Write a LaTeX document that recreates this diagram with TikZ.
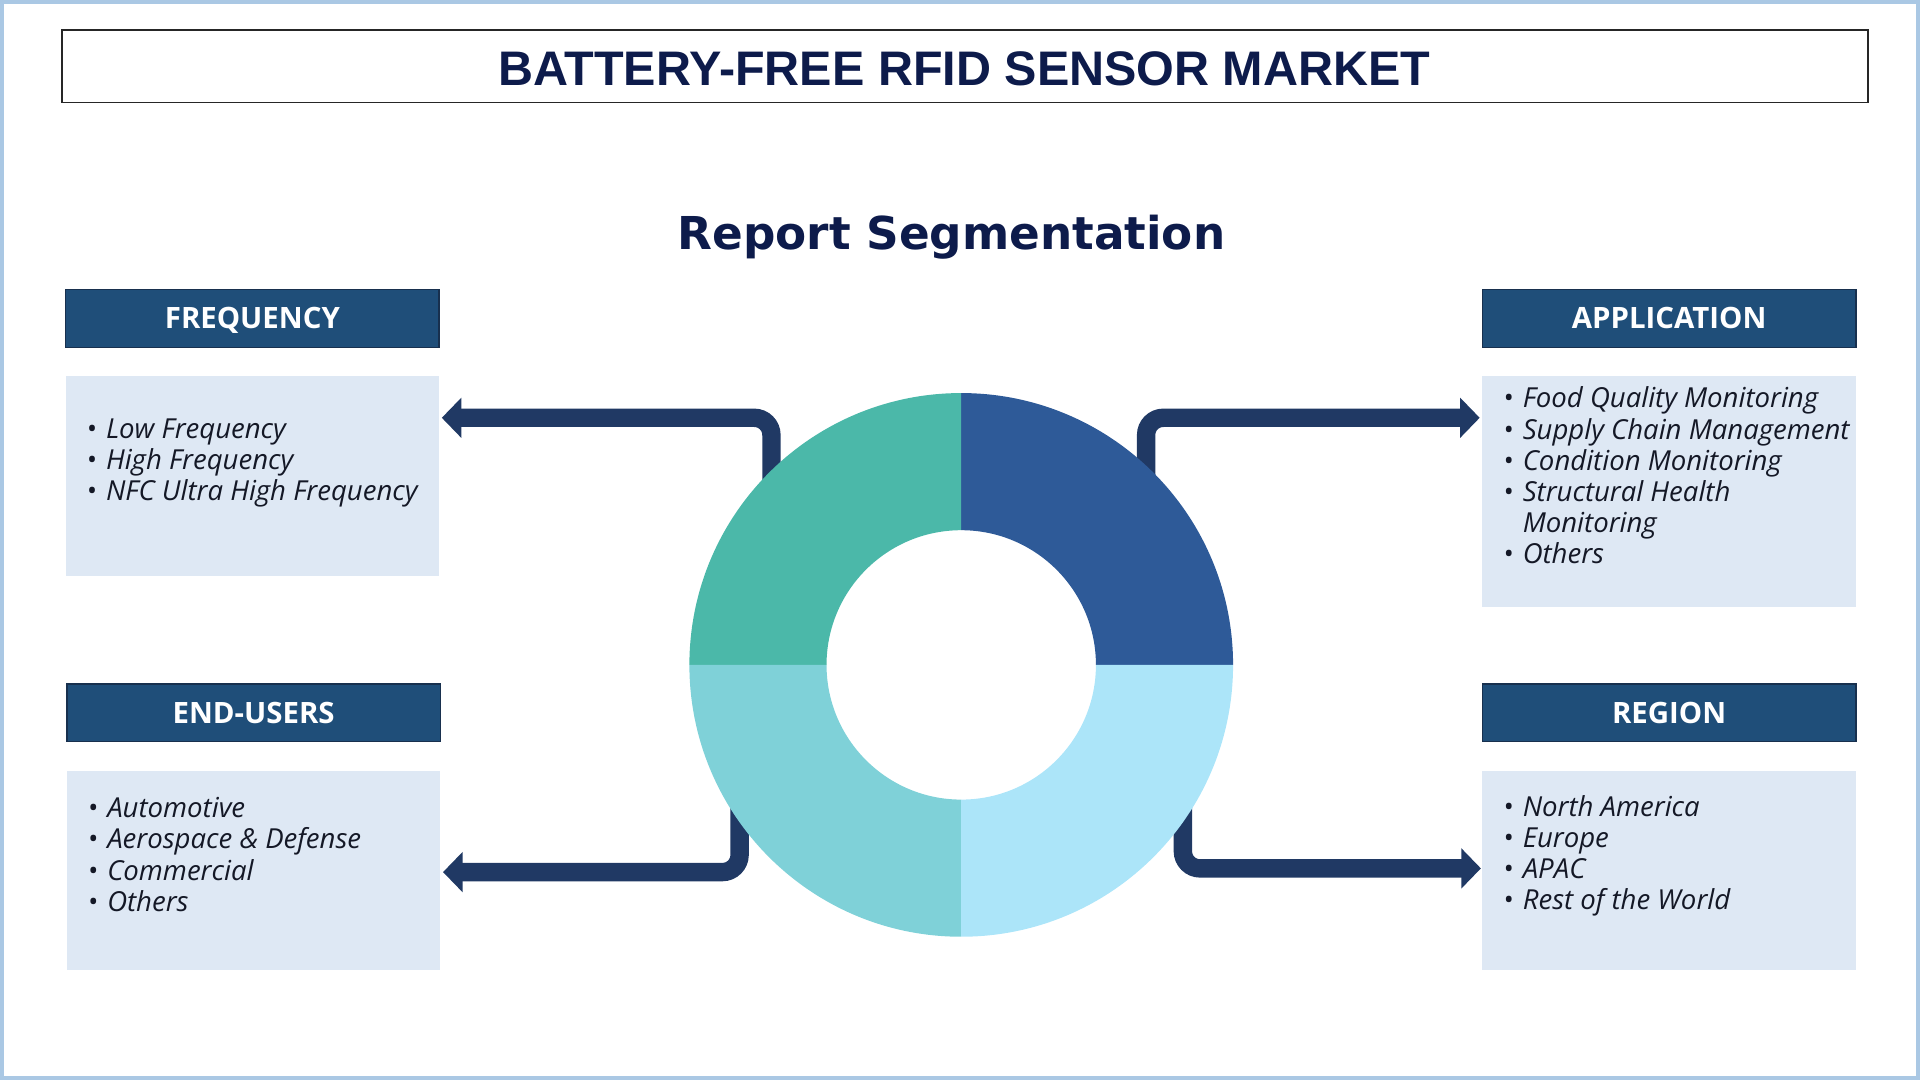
\documentclass[tikz,border=0pt]{standalone}
\usepackage{fontspec}
\setmainfont{Open Sans}
\newfontfamily\titlefont{Liberation Sans}
\newfontfamily\segfont{DejaVu Sans}
\usetikzlibrary{calc,positioning,arrows.meta}
\definecolor{navy}{RGB}{13,27,75}
\definecolor{hdrblue}{RGB}{31,78,121}
\definecolor{hdredge}{RGB}{24,48,78}
\definecolor{panelblue}{RGB}{222,232,244}
\definecolor{linkblue}{RGB}{32,57,100}
\definecolor{itemink}{RGB}{20,24,38}
\definecolor{frameblue}{RGB}{170,200,228}
\definecolor{segA}{RGB}{46,90,152}
\definecolor{segB}{RGB}{75,184,169}
\definecolor{segC}{RGB}{127,209,216}
\definecolor{segD}{RGB}{172,229,249}
\def\sector(#1)(#2:#3)#4{\fill[#4] ($(#1)+(#2:222)$) arc (#2:#3:222) -- ($(#1)+(#3:110)$) arc (#3:#2:110) -- cycle;}
\newcommand\itm[1]{\makebox[16pt][l]{\textbullet}#1}

\begin{document}
\begin{tikzpicture}[x=1pt, y=-1pt,
		hdr/.style={draw=hdredge, line width=1.2pt, fill=hdrblue, text=white, font=\fontsize{24}{28}\selectfont\bfseries, text height=17pt, text depth=0pt, minimum width=305pt, minimum height=47pt, inner sep=0pt, anchor=north west},
		panel/.style={fill=panelblue, minimum width=305pt, inner sep=0pt},
		items/.style={text=itemink, font=\fontsize{22.5}{25.5}\selectfont\itshape, align=left, inner sep=0pt, anchor=west},
		link/.style={draw=linkblue, line width=15pt, rounded corners=14pt, -{Triangle[length=16pt, width=32pt]}}]
			%%%%% START %%%%%
			
			\useasboundingbox (0,0) rectangle (1568,882);
			\draw[frameblue, line width=3pt] (1.5,1.5) rectangle (1566.5,880.5);
			
			\node[draw=black!85, line width=1.5pt, minimum width=1475pt, minimum height=59pt, inner sep=0pt, anchor=north west] (titlebox) at (50,24) {};
			\node[text=navy, font=\titlefont\fontsize{39.6}{44}\selectfont\bfseries, anchor=base] (title) at (787.5,70) {BATTERY-FREE RFID SENSOR MARKET};
			
			\node[text=navy, font=\segfont\fontsize{37}{44}\selectfont\bfseries, anchor=base] (segtitle) at (777,204) {Report Segmentation};
			
			\node[hdr] (freqhdr) at (53,236) {FREQUENCY};
			\node[hdr] (apphdr) at (1210,236) {APPLICATION};
			\node[hdr] (endhdr) at (54,558) {END-USERS};
			\node[hdr] (reghdr) at (1210,558) {REGION};
			
			\node[panel, minimum height=163pt, below=23pt of freqhdr] (freqbox) {};
			\node[panel, minimum height=188pt, below=23pt of apphdr] (appbox) {};
			\node[panel, minimum height=163pt, below=23pt of endhdr] (endbox) {};
			\node[panel, minimum height=163pt, below=23pt of reghdr] (regbox) {};
			
			\node[items] (freqlist) at ($(freqbox.west)+(17,-11)$) {\itm{Low Frequency}\\ \itm{High Frequency}\\ \itm{NFC Ultra High Frequency}};
			\node[items] (applist) at ($(appbox.west)+(17,-13)$) {\itm{Food Quality Monitoring}\\ \itm{Supply Chain Management}\\ \itm{Condition Monitoring}\\ \itm{Structural Health}\\ \makebox[16pt]{}Monitoring\\ \itm{Others}};
			\node[items] (endlist) at ($(endbox.west)+(17,-13)$) {\itm{Automotive}\\ \itm{Aerospace \& Defense}\\ \itm{Commercial}\\ \itm{Others}};
			\node[items] (reglist) at ($(regbox.west)+(17,-12)$) {\itm{North America}\\ \itm{Europe}\\ \itm{APAC}\\ \itm{Rest of the World}};
			
			\coordinate (ring) at (785,543);
			\coordinate (freqtip) at ($(freqbox.north east)+(2,34)$);
			\coordinate (apptip) at ($(appbox.north west)+(-2,34)$);
			\coordinate (endtip) at ($(endbox.north east)+(2,83)$);
			\coordinate (regtip) at ($(regbox.north west)+(-1,80)$);
			
			\draw[link] ($(ring)+(-155,-120)$) |- (freqtip);
			\draw[link] ($(ring)+(151,-120)$) |- (apptip);
			\draw[link] ($(ring)+(-181,100)$) |- (endtip);
			\draw[link] ($(ring)+(181,100)$) |- (regtip);
			
			\sector(ring)(-90:0){segA}
			\sector(ring)(180:270){segB}
			\sector(ring)(90:180){segC}
			\sector(ring)(0:90){segD}
			
			%%%%% END %%%%%
		\end{tikzpicture}
\end{document}
